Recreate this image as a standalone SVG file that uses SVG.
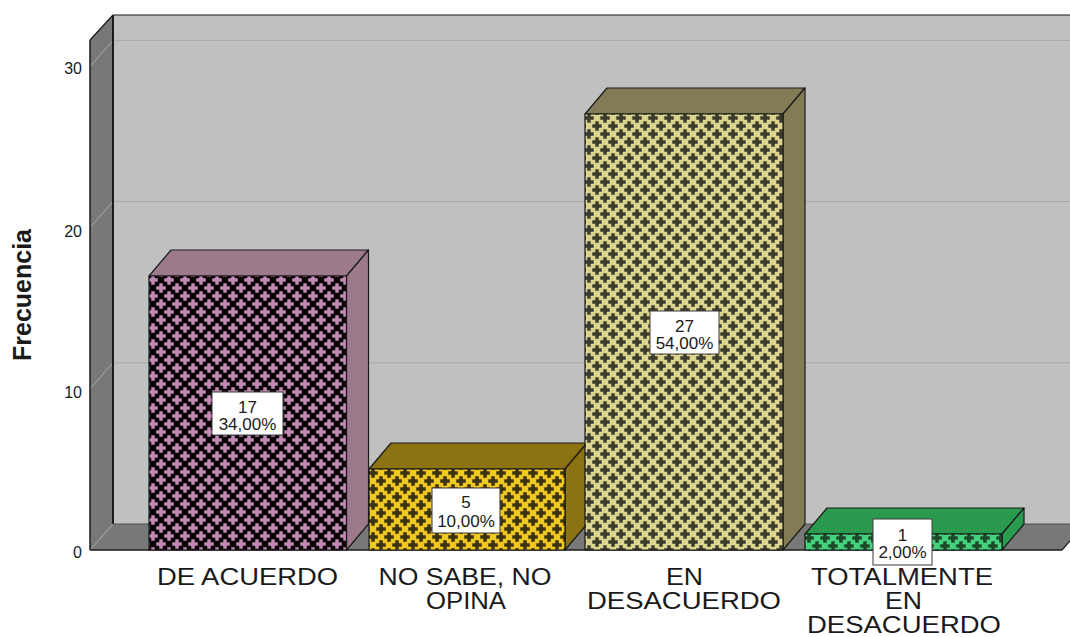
<svg xmlns="http://www.w3.org/2000/svg" width="1070" height="637" viewBox="0 0 1070 637">
<style>
.t{font-family:"Liberation Sans",Arial,sans-serif;fill:#1a1a1a}
.tick{font-size:16px;text-anchor:end}
.cat{font-size:24px;text-anchor:middle}
.val{font-size:17px;text-anchor:middle}
.ax{font-size:25px;font-weight:bold;text-anchor:middle}
.edge{stroke:#1a1a1a;stroke-width:1.2;stroke-linejoin:round}
.grid{stroke:#a8a8a8;stroke-width:1;fill:none}
.box{fill:#ffffff;stroke:#3a3a3a;stroke-width:1}
</style>
<defs>
<path id="cr" d="M-1.75,-4.75h3.5v3h3v3.5h-3v3h-3.5v-3h-3v-3.5h3z"/>
<g id="crs">
<use href="#cr" x="4" y="4"/>
<use href="#cr" x="20" y="4"/>
<use href="#cr" x="4" y="20"/>
<use href="#cr" x="12" y="12"/>
<use href="#cr" x="-4" y="12"/>
<use href="#cr" x="12" y="-4"/>
</g>
<pattern id="p1" patternUnits="userSpaceOnUse" width="16" height="16" x="149" y="276">
<rect width="16" height="16" fill="#0a0608"/>
<use href="#crs" fill="#c08ab4"/>
</pattern>
<pattern id="p2" patternUnits="userSpaceOnUse" width="16" height="16" x="369" y="469">
<rect width="16" height="16" fill="#f0c81e"/>
<use href="#crs" fill="#3b3210"/>
</pattern>
<pattern id="p3" patternUnits="userSpaceOnUse" width="16" height="16" x="585" y="114">
<rect width="16" height="16" fill="#ddd58f"/>
<use href="#crs" fill="#3d3d2d"/>
</pattern>
<pattern id="p4" patternUnits="userSpaceOnUse" width="16" height="16" x="805" y="534">
<rect width="16" height="16" fill="#44d47f"/>
<use href="#crs" fill="#1e4a2a"/>
</pattern>
</defs>
<rect width="1070" height="637" fill="#ffffff"/>
<g id="frame">
<rect x="113" y="15" width="1000" height="509" fill="#c0c0c0"/>
<polygon points="90,40 113,15 113,524 90,550" fill="#787878"/>
<polygon points="90,550 113,524 1085,524 1062,550" fill="#787878"/>
<g class="grid">
<line x1="113" y1="362.8" x2="1070" y2="362.8"/>
<line x1="113" y1="201.6" x2="1070" y2="201.6"/>
<line x1="113" y1="40.4" x2="1070" y2="40.4"/>
<line x1="90" y1="550" x2="113" y2="524"/>
<line x1="90" y1="388.8" x2="113" y2="362.8"/>
<line x1="90" y1="227.6" x2="113" y2="201.6"/>
<line x1="90" y1="66.4" x2="113" y2="40.4"/>
</g>
<g class="edge" fill="none">
<line x1="113" y1="15" x2="1070" y2="15"/>
<line x1="113" y1="15" x2="113" y2="524" stroke-width="2"/>
<line x1="90" y1="40" x2="113" y2="15"/>
<line x1="90" y1="40" x2="90" y2="550" stroke-width="1.5"/>
<line x1="113" y1="524" x2="1085" y2="524" stroke="#505050" stroke-width="1"/>
<line x1="90" y1="550" x2="1062" y2="550" stroke-width="1.5"/>
<line x1="1062" y1="550" x2="1085" y2="524"/>
</g>
</g>
<g id="axis">
<text class="t tick" x="82" y="558">0</text>
<text class="t tick" x="82" y="398">10</text>
<text class="t tick" x="82" y="237">20</text>
<text class="t tick" x="82" y="74">30</text>
<text class="t ax" transform="translate(31,295) rotate(-90)">Frecuencia</text>
</g>
<g id="bar-de-acuerdo" class="edge">
<polygon points="149,276 171,250 368.5,250 346.5,276" fill="#9d7a8b"/>
<polygon points="346.5,276 368.5,250 368.5,524 346.5,550" fill="#9d7a8b"/>
<rect x="149" y="276" width="197.5" height="274" fill="url(#p1)"/>
</g>
<g id="bar-no-sabe" class="edge">
<polygon points="369,469 391,443 587,443 565,469" fill="#8b7212"/>
<polygon points="565,469 587,443 587,524 565,550" fill="#8b7212"/>
<rect x="369" y="469" width="196" height="81" fill="url(#p2)"/>
</g>
<g id="bar-en-desacuerdo" class="edge">
<polygon points="585,114 607,88 805,88 783,114" fill="#827c56"/>
<polygon points="783,114 805,88 805,524 783,550" fill="#827c56"/>
<rect x="585" y="114" width="198" height="436" fill="url(#p3)"/>
</g>
<g id="bar-totalmente" class="edge">
<polygon points="805,534 827,508 1024,508 1002,534" fill="#2a9a4e"/>
<polygon points="1002,534 1024,508 1024,524 1002,550" fill="#2a9a4e"/>
<rect x="805" y="534" width="197" height="16" fill="url(#p4)"/>
</g>
<g id="label-17">
<rect class="box" x="212" y="392" width="71" height="43"/>
<text class="t val" x="247.5" y="413">17</text>
<text class="t val" x="247.5" y="430">34,00%</text>
</g>
<g id="label-5">
<rect class="box" x="432" y="488" width="68" height="45"/>
<text class="t val" x="466" y="508">5</text>
<text class="t val" x="466" y="527">10,00%</text>
</g>
<g id="label-27">
<rect class="box" x="650" y="311" width="69" height="43"/>
<text class="t val" x="684.5" y="332">27</text>
<text class="t val" x="684.5" y="349">54,00%</text>
</g>
<g id="label-1">
<rect class="box" x="873" y="519" width="59" height="46"/>
<text class="t val" x="902.5" y="541">1</text>
<text class="t val" x="902.5" y="558">2,00%</text>
</g>
<g id="categories">
<text class="t cat" x="247.5" y="585" textLength="181" lengthAdjust="spacingAndGlyphs">DE ACUERDO</text>
<text class="t cat" x="465" y="585" textLength="173" lengthAdjust="spacingAndGlyphs">NO SABE, NO</text>
<text class="t cat" x="466" y="609" textLength="80" lengthAdjust="spacingAndGlyphs">OPINA</text>
<text class="t cat" x="684.5" y="585" textLength="37" lengthAdjust="spacingAndGlyphs">EN</text>
<text class="t cat" x="684" y="609" textLength="194" lengthAdjust="spacingAndGlyphs">DESACUERDO</text>
<text class="t cat" x="902" y="585" textLength="182" lengthAdjust="spacingAndGlyphs">TOTALMENTE</text>
<text class="t cat" x="903.5" y="609" textLength="37" lengthAdjust="spacingAndGlyphs">EN</text>
<text class="t cat" x="904" y="633" textLength="194" lengthAdjust="spacingAndGlyphs">DESACUERDO</text>
</g>
</svg>
